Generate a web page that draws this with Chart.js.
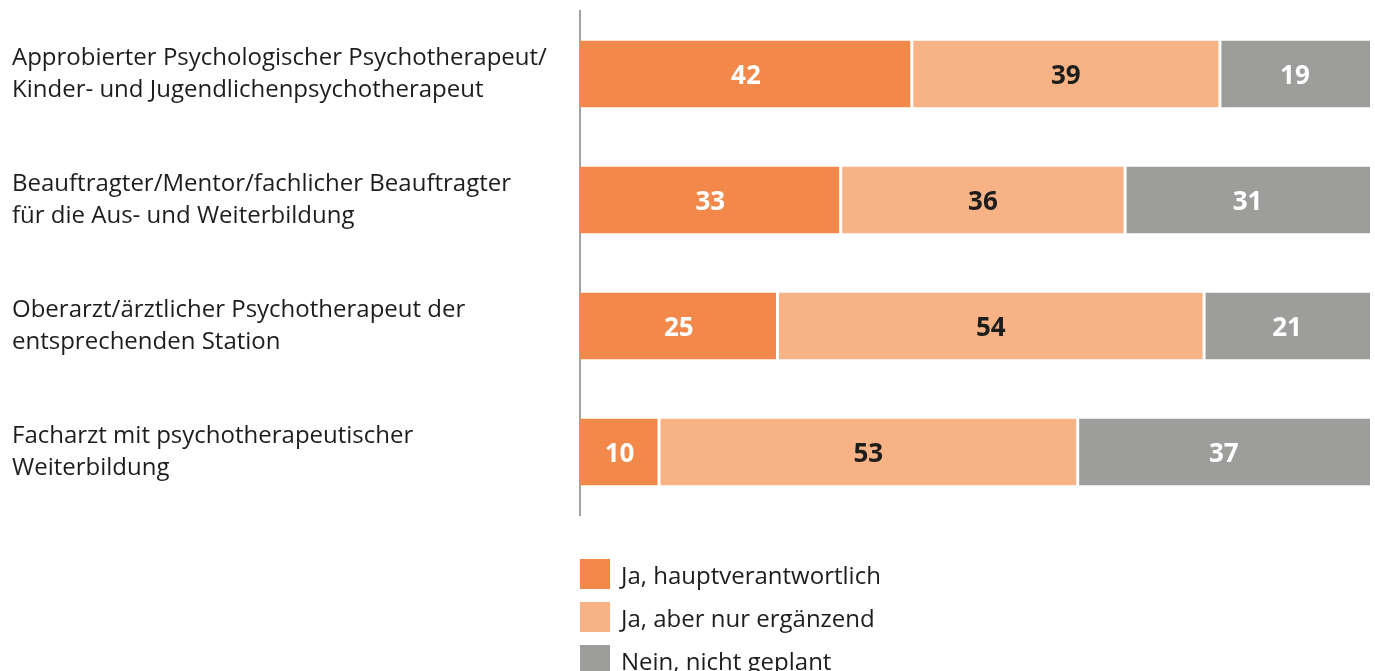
<!DOCTYPE html>
<html>
<head>
<meta charset="utf-8">
<script src="https://cdn.jsdelivr.net/npm/chart.js@4/dist/chart.umd.min.js"></script>
<style>
  html, body { margin: 0; padding: 0; background: #ffffff; }
  #wrap { position: relative; width: 1375px; height: 671px; overflow: hidden; }
  #chart { position: absolute; left: 0; top: 0; }
  #legend { position: absolute; left: 580px; top: 559px; font-family: "Open Sans", sans-serif; font-size: 24px; color: #1d1d1b; }
  .item { display: flex; align-items: center; height: 30px; margin-bottom: 13px; }
  .sw { width: 30px; height: 30px; margin-right: 11px; flex: none; }
</style>
</head>
<body>
<div id="wrap">
  <canvas id="chart" width="1375" height="671"></canvas>
  <div id="legend"></div>
</div>
<script>
const categories = [
  ["Approbierter Psychologischer Psychotherapeut/", "Kinder- und Jugendlichenpsychotherapeut"],
  ["Beauftragter/Mentor/fachlicher Beauftragter", "für die Aus- und Weiterbildung"],
  ["Oberarzt/ärztlicher Psychotherapeut der", "entsprechenden Station"],
  ["Facharzt mit psychotherapeutischer", "Weiterbildung"]
];
const seriesNames = ["Ja, hauptverantwortlich", "Ja, aber nur ergänzend", "Nein, nicht geplant"];
const hauptverantwortlich = [42, 33, 25, 10];
const ergaenzend = [39, 36, 54, 53];
const nichtGeplant = [19, 31, 21, 37];
const seriesColors = ["#F2894A", "#F7B386", "#9D9D9B"];
const labelColors = ["#ffffff", "#1d1d1b", "#ffffff"];

const seriesValues = [hauptverantwortlich, ergaenzend, nichtGeplant];
const borders = [
  { top: 0, right: 1.5, bottom: 0, left: 0 },
  { top: 0, right: 1.5, bottom: 0, left: 1.5 },
  { top: 0, right: 0, bottom: 0, left: 1.5 }
];

const valueLabels = {
  id: 'valueLabels',
  afterDatasetsDraw(chart) {
    const ctx = chart.ctx;
    ctx.save();
    ctx.font = 'bold 26px "Open Sans", sans-serif';
    ctx.textAlign = 'center';
    ctx.textBaseline = 'middle';
    chart.data.datasets.forEach((ds, di) => {
      const meta = chart.getDatasetMeta(di);
      meta.data.forEach((el, i) => {
        ctx.fillStyle = labelColors[di];
        ctx.fillText(String(ds.data[i]), (el.x + el.base) / 2, el.y + 3);
      });
    });
    ctx.restore();
  }
};

new Chart(document.getElementById('chart'), {
  type: 'bar',
  data: {
    labels: categories,
    datasets: seriesNames.map((name, i) => ({
      label: name,
      data: seriesValues[i],
      backgroundColor: seriesColors[i],
      borderColor: '#ffffff',
      borderWidth: borders[i],
      borderSkipped: false,
      categoryPercentage: 1,
      barPercentage: 0.53
    }))
  },
  options: {
    indexAxis: 'y',
    responsive: false,
    animation: false,
    layout: { padding: { left: 12, right: 5, top: 11, bottom: 156 } },
    plugins: { legend: { display: false }, tooltip: { enabled: false } },
    scales: {
      x: { stacked: true, min: 0, max: 100, display: false },
      y: {
        stacked: true,
        grid: { display: false, drawTicks: false },
        border: { display: true, color: '#a3a3a3', width: 2 },
        ticks: {
          crossAlign: 'far',
          color: '#1d1d1b',
          font: { family: '"Open Sans", sans-serif', size: 24, lineHeight: 1.33 }
        },
        afterFit(scale) {
          scale.width = 568;
          scale.paddingTop = 0;
          scale.paddingBottom = 0;
        }
      }
    }
  },
  plugins: [valueLabels]
});

const legend = document.getElementById('legend');
seriesNames.forEach((name, i) => {
  const item = document.createElement('div');
  item.className = 'item';
  const sw = document.createElement('span');
  sw.className = 'sw';
  sw.style.background = seriesColors[i];
  const t = document.createElement('span');
  t.textContent = name;
  item.appendChild(sw);
  item.appendChild(t);
  legend.appendChild(item);
});
</script>
</body>
</html>
